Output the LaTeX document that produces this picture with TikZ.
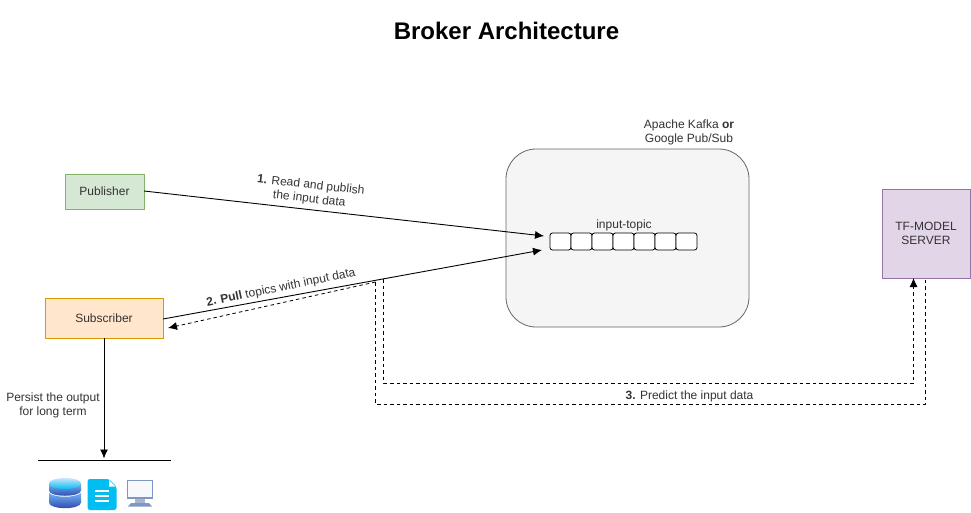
\documentclass[tikz,border=0pt]{standalone}
\usepackage{fontspec}
\setmainfont{Liberation Sans}
\usetikzlibrary{arrows.meta,shapes.geometric}
\definecolor{txt}{HTML}{333333}
\definecolor{gfill}{HTML}{D5E8D4}\definecolor{gline}{HTML}{82B366}
\definecolor{ofill}{HTML}{FFE6CC}\definecolor{oline}{HTML}{D79B00}
\definecolor{pfill}{HTML}{E1D5E7}\definecolor{pline}{HTML}{9673A6}
\definecolor{kfill}{HTML}{F5F5F5}\definecolor{kline}{HTML}{666666}
\definecolor{docblue}{HTML}{00BEF2}
\definecolor{dbdark}{HTML}{2A3FA8}\definecolor{dbmid}{HTML}{6FB4F5}
\definecolor{monline}{HTML}{7F96C0}\definecolor{monfill}{HTML}{F7F8FC}
\tikzset{
  x=1pt,y=-1pt,
  lab/.style={font=\fontsize{12}{14}\selectfont,text=txt,align=center,inner sep=0pt},
  colorbox/.style={line width=.8pt,inner sep=0pt,font=\fontsize{12}{14}\selectfont,text=txt,align=center},
  cell/.style={draw=black,fill=white,rounded corners=2.5pt,line width=.8pt,minimum width=21pt,minimum height=17pt,inner sep=0pt},
  solidarrow/.style={draw=black,line width=.9pt,-{Latex[length=9pt,width=8pt]}},
  dasharrow/.style={draw=black,line width=.8pt,dash pattern=on 3.5pt off 3pt,-{Latex[length=9pt,width=8pt]}},
  dashline/.style={draw=black,line width=.8pt,dash pattern=on 3.5pt off 3pt},
}
\begin{document}
\begin{tikzpicture}
\useasboundingbox (0,0) rectangle (971,512);
\fill[white] (0,0) rectangle (971,512);
\node[font=\fontsize{24}{28}\selectfont\bfseries,inner sep=0pt] (title) at (506.5,31) {Broker Architecture};

% boxes
\node[colorbox,draw=gline,fill=gfill,minimum width=79pt,minimum height=35pt] (pub) at (104.5,191.5) {Publisher};
\node[colorbox,draw=oline,fill=ofill,minimum width=118pt,minimum height=40pt] (sub) at (104,318) {Subscriber};
\node[colorbox,draw=pline,fill=pfill,minimum width=88pt,minimum height=89pt] (srv) at (926,233.5) {TF-MODEL\\SERVER};
\node[colorbox,draw=kline,fill=kfill,rounded corners=30pt,minimum width=243pt,minimum height=178pt] (kafka) at (627.5,238) {};

% queue
\foreach \i [count=\n] in {0,...,6}
  \node[cell] (c\n) at ({560.5+21*\i},241.5) {};

\node[lab] (topic) at (624,225) {input-topic};
\node[lab] (kname) at (689,132.5) {Apache Kafka \textbf{or}\\Google Pub/Sub};

% connection points
\coordinate (pubout) at (144,191);
\coordinate (pubin) at (544,236);
\coordinate (subout) at (163,319);
\coordinate (subin) at (542,250);
\coordinate (tap) at (383.5,279);
\coordinate (tapb) at (375.5,282);
\coordinate (pullend) at (168,328);
\coordinate (srvin) at (913.5,278);
\coordinate (srvout) at (925.5,278);
\coordinate (baseL) at (38,460);
\coordinate (baseR) at (171,460);
\coordinate (baseM) at (104,458.5);

% connectors
\draw[solidarrow] (pubout) -- (pubin);
\draw[solidarrow] (subout) -- (subin);
\draw[dasharrow] (tapb) -- (pullend);
\draw[dasharrow] (tap) -- (383.5,383) -- (913.5,383) -- (srvin);
\draw[dashline] (tapb) -- (375.5,404) -- (925.5,404) -- (srvout);
\draw[solidarrow] (sub.south) -- (baseM);
\draw[black,line width=.8pt] (baseL) -- (baseR);

% labels
\node[lab,rotate=-6.5] (l1) at (310,192.5) {\textbf{1.} Read and publish\\the input data};
\node[lab,rotate=11.6] (l2) at (281,288) {\textbf{2. Pull} topics with input data};
\node[lab] (l3) at (689.5,396) {\textbf{3.} Predict the input data};
\node[lab] (l4) at (53,405) {Persist the output\\for long term};

% database icon
\path[top color=dbmid,bottom color=dbdark]
  (49,493) .. controls (55,498) and (75,498) .. (81,493) -- (81,502.5)
  .. controls (81,510) and (49,510) .. (49,502.5) -- cycle;
\path[top color=dbmid,bottom color=dbdark]
  (49,483.5) -- (49,490.5) .. controls (49,497.5) and (81,497.5) .. (81,490.5) -- (81,483.5) -- cycle;
\path[top color=dbmid!35,bottom color=docblue] (65,483.5) ellipse[x radius=16pt,y radius=5.5pt];
% document icon
\fill[docblue,rounded corners=2.5pt] (87.5,479) -- (109,479) -- (116.5,486.5) -- (116.5,510) -- (87.5,510) -- cycle;
\fill[white] (109,480) -- (115.5,486.5) -- (109,486.5) -- cycle;
\foreach \yy in {490.5,495.5,500.5} \fill[white] (95,\yy-1) rectangle (108.5,\yy+1);
% monitor icon
\draw[monline,fill=monfill,line width=1.2pt] (127.5,480.5) rectangle (152.5,498);
\fill[monline!70] (135,499) rectangle (145,503);
\fill[monline] (131,503) -- (149,503) -- (152,506.5) -- (128,506.5) -- cycle;
\end{tikzpicture}
\end{document}
